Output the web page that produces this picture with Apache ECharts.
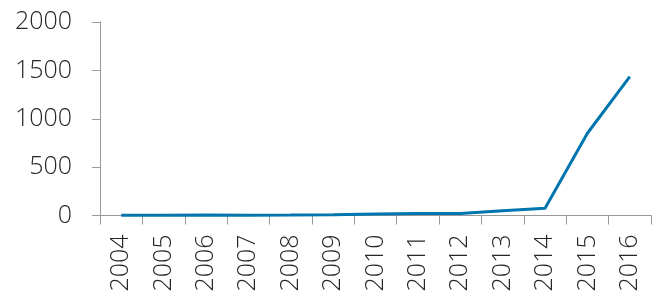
<!DOCTYPE html>
<html><head><meta charset="utf-8">
<script src="https://cdn.jsdelivr.net/npm/echarts@6/dist/echarts.min.js"></script>
<style>html,body{margin:0;padding:0;background:#fff}#c{width:656px;height:298px}</style>
</head><body><div id="c"></div>
<script>
const years = ['2004','2005','2006','2007','2008','2009','2010','2011','2012','2013','2014','2015','2016'];
const values = [3, 2, 5, 3, 5, 8, 15, 20, 20, 50, 76, 850, 1435];
const yTicks = [0, 500, 1000, 1500, 2000];

const chart = echarts.init(document.getElementById('c'), null, {renderer: 'canvas'});
const font = '"Open Sans", "Liberation Sans", sans-serif';
chart.setOption({
  animation: false,
  grid: {left: 100, right: 5, top: 22, bottom: 82.5},
  xAxis: {
    type: 'category', data: years, boundaryGap: true,
    axisLine: {lineStyle: {color: '#999', width: 1}},
    axisTick: {show: true, length: 9, lineStyle: {color: '#999'}},
    axisLabel: {rotate: 90, margin: 19, fontSize: 25, fontFamily: font, fontWeight: 300, color: '#262626'}
  },
  yAxis: {
    type: 'value', min: yTicks[0], max: yTicks[yTicks.length - 1], interval: 500,
    splitLine: {show: false},
    axisLine: {show: true, lineStyle: {color: '#999', width: 1}},
    axisTick: {show: true, length: 8, lineStyle: {color: '#999'}},
    axisLabel: {margin: 28, fontSize: 25, fontFamily: font, fontWeight: 300, color: '#262626',
      formatter: v => String(v)}
  },
  series: [{
    type: 'line', data: values, symbol: 'none',
    lineStyle: {color: '#0075AE', width: 3}
  }]
});
</script></body></html>
